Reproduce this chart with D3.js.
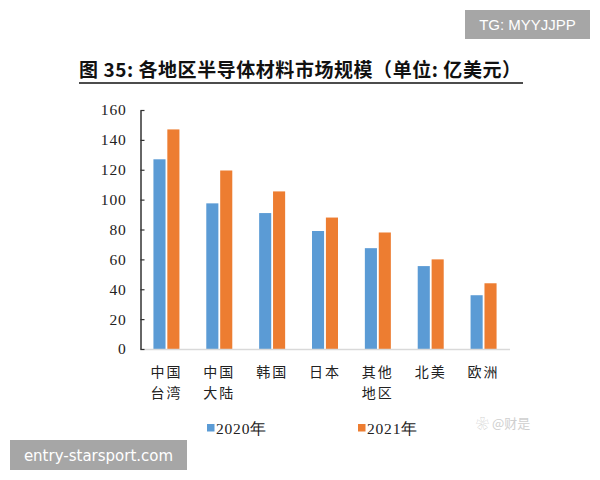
<!DOCTYPE html>
<html>
<head>
<meta charset="utf-8">
<script src="https://cdn.jsdelivr.net/npm/d3@7"></script>
<style>
  body { margin: 0; background: #fff; }
  svg { display: block; }
</style>
</head>
<body>
<svg id="chart" width="600" height="480"></svg>
<script>
// data
var regions = [["中国", "台湾"], ["中国", "大陆"], ["韩国"], ["日本"], ["其他", "地区"], ["北美"], ["欧洲"]];
var years = ["2020年", "2021年"];
var values2020 = [127, 97.5, 91, 79, 67.5, 55.5, 36];
var values2021 = [147, 119.5, 105.5, 88, 78, 60, 44];
var yTicks = [0, 20, 40, 60, 80, 100, 120, 140, 160];
var colors = ["#5b9bd5", "#ed7d31"];

var serif = "'Liberation Serif', 'DejaVu Serif', serif";
var cjk = "'Noto Sans CJK SC', 'Noto Sans', sans-serif";

var svg = d3.select("#chart");

// title + underline
var title = svg.append("text")
    .attr("x", 300).attr("y", 77)
    .attr("text-anchor", "middle")
    .style("font-family", cjk)
    .style("font-weight", "bold")
    .style("font-size", "19px")
    .attr("fill", "#111")
    .text("图 35: 各地区半导体材料市场规模（单位: 亿美元）");
title.attr("textLength", 442).attr("lengthAdjust", "spacing");

svg.append("line")
    .attr("x1", 79).attr("x2", 523)
    .attr("y1", 83).attr("y2", 83)
    .attr("stroke", "#111").attr("stroke-width", 1.5);

// scales
var x = d3.scaleBand().domain(d3.range(regions.length)).range([140, 510]);
var inner = d3.scaleBand().domain([0, 1]).range([0, 26]).paddingInner(0.13);
var y = d3.scaleLinear().domain([0, 160]).range([349, 110]);

// bars
var series = [values2020, values2021];
series.forEach(function(vals, s) {
    svg.append("g").selectAll("rect")
        .data(vals)
        .enter().append("rect")
        .attr("x", function(d, i) { return x(i) + (x.bandwidth() - 26) / 2 + inner(s); })
        .attr("y", function(d) { return y(d); })
        .attr("width", inner.bandwidth())
        .attr("height", function(d) { return y(0) - y(d); })
        .attr("fill", colors[s]);
});

// x axis line (light)
svg.append("line")
    .attr("x1", 140).attr("x2", 510)
    .attr("y1", y(0) + 0.5).attr("y2", y(0) + 0.5)
    .attr("stroke", "#d9d9d9").attr("stroke-width", 1.5);

// y axis
var yAxis = d3.axisLeft(y).tickValues(yTicks).tickSizeInner(-4).tickSizeOuter(0).tickPadding(14);
var gy = svg.append("g").attr("transform", "translate(140.5,0)").call(yAxis);
gy.select(".domain").attr("stroke", "#333").attr("stroke-width", 1.5);
gy.selectAll(".tick line").attr("stroke", "#333").attr("stroke-width", 1.2);
gy.selectAll(".tick text")
    .style("font-family", serif)
    .style("font-size", "15.5px")
    .style("letter-spacing", "0.8px")
    .attr("fill", "#222");

// category labels
var cats = svg.append("g").selectAll("text")
    .data(regions)
    .enter().append("text")
    .attr("x", function(d, i) { return x(i) + x.bandwidth() / 2; })
    .attr("y", 377)
    .attr("text-anchor", "middle")
    .style("font-family", cjk)
    .style("font-size", "14px")
    .style("letter-spacing", "2px")
    .attr("fill", "#222");
cats.selectAll("tspan")
    .data(function(d) { return d; })
    .enter().append("tspan")
    .attr("x", function() { return this.parentNode.getAttribute("x"); })
    .attr("dy", function(d, i) { return i === 0 ? 0 : 20.5; })
    .text(function(d) { return d; });

// legend
var legendX = [207, 358];
years.forEach(function(name, i) {
    svg.append("rect")
        .attr("x", legendX[i]).attr("y", 424)
        .attr("width", 7.5).attr("height", 7.5)
        .attr("fill", colors[i]);
    svg.append("text")
        .attr("x", legendX[i] + 9).attr("y", 434)
        .style("font-family", serif)
        .style("font-size", "15.5px")
        .style("letter-spacing", "0.8px")
        .attr("fill", "#222")
        .text(name);
});

// faint watermark
svg.append("text")
    .attr("x", 476).attr("y", 428)
    .style("font-family", cjk)
    .style("font-size", "13px")
    .attr("fill", "#cfcfcf")
    .text("❀ @财是");

// overlay tags
svg.append("rect").attr("x", 465).attr("y", 10).attr("width", 125).attr("height", 29).attr("fill", "#a6a6a6");
svg.append("text")
    .attr("x", 527.5).attr("y", 30)
    .attr("text-anchor", "middle")
    .style("font-family", "'Liberation Sans', Arial, sans-serif")
    .style("font-size", "15px")
    .attr("fill", "#fff")
    .text("TG: MYYJJPP");

svg.append("rect").attr("x", 10).attr("y", 440).attr("width", 177).attr("height", 30).attr("fill", "#a6a6a6");
svg.append("text")
    .attr("x", 98.5).attr("y", 461)
    .attr("text-anchor", "middle")
    .style("font-family", "'DejaVu Sans', sans-serif")
    .style("font-size", "15px")
    .attr("fill", "#fff")
    .text("entry-starsport.com");
</script>
</body>
</html>
